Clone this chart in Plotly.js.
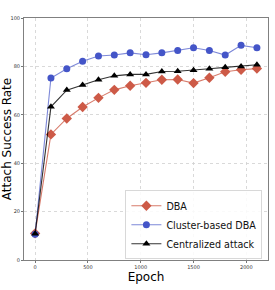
<!DOCTYPE html>
<html>
<head>
<meta charset="utf-8">
<script src="https://cdn.plot.ly/plotly-3.0.1.min.js"></script>
<style>html,body{margin:0;padding:0;background:#fff;}#chart{width:275px;height:290px;}</style>
</head>
<body>
<div id="chart"></div>
<script>
var epochs = [0, 150, 300, 450, 600, 750, 900, 1050, 1200, 1350, 1500, 1650, 1800, 1950, 2100];
var dba = [11.0, 51.9, 58.5, 63.2, 67.0, 70.3, 72.0, 73.2, 74.5, 74.6, 73.1, 75.3, 77.8, 78.6, 79.1];
var clusterDba = [10.6, 75.2, 79.0, 82.1, 84.3, 84.7, 85.6, 84.8, 85.6, 86.6, 87.7, 86.6, 84.7, 88.7, 87.7];
var centralized = [10.8, 63.3, 70.2, 72.3, 74.5, 76.1, 76.7, 76.7, 77.9, 78.0, 78.4, 79.0, 79.6, 80.0, 80.7];
var seriesNames = ["DBA", "Cluster-based DBA", "Centralized attack"];
var yTicks = [0, 20, 40, 60, 80, 100];
var xTicks = [0, 500, 1000, 1500, 2000];

var font = "DejaVu Sans, sans-serif";
var traces = [
  {x: epochs, y: dba, name: seriesNames[0], mode: "lines+markers",
   line: {color: "rgba(205,90,70,0.8)", width: 1.1},
   marker: {symbol: "diamond", size: 8, color: "#cd5a47"}},
  {x: epochs, y: clusterDba, name: seriesNames[1], mode: "lines+markers",
   line: {color: "rgba(70,85,200,0.7)", width: 1.1},
   marker: {symbol: "circle", size: 7, color: "#4455c8"}},
  {x: epochs, y: centralized, name: seriesNames[2], mode: "lines+markers",
   line: {color: "rgba(0,0,0,0.8)", width: 1.1},
   marker: {symbol: "triangle-up", size: 7, color: "#000000"}}
];

var axisCommon = {
  showline: true, mirror: true, linecolor: "#808080", linewidth: 1,
  ticks: "outside", ticklen: 2, tickwidth: 0.8, tickcolor: "#555",
  showgrid: true, gridcolor: "#d0d0d0", griddash: "dot", gridwidth: 0.8,
  zeroline: false, tickfont: {family: font, size: 5, color: "#333"}
};

var layout = {
  width: 275, height: 290,
  margin: {l: 24, r: 7, t: 18, b: 30},
  paper_bgcolor: "#fff", plot_bgcolor: "#fff",
  font: {family: font, color: "#000"},
  showlegend: true,
  legend: {
    x: 0.977, y: 0.003, xanchor: "right", yanchor: "bottom",
    bgcolor: "rgba(255,255,255,0.85)", bordercolor: "#d8d8d8", borderwidth: 1,
    font: {family: font, size: 9.6, color: "#111"},
    tracegroupgap: 0, itemwidth: 30
  },
  xaxis: Object.assign({}, axisCommon, {
    range: [-105, 2205], tickvals: xTicks, ticktext: xTicks.map(String),
    title: {text: "Epoch", font: {family: font, size: 12, color: "#000"}, standoff: 2}
  }),
  yaxis: Object.assign({}, axisCommon, {
    range: [0, 100], tickvals: yTicks, ticktext: yTicks.map(String),
    title: {text: "Attach Success Rate", font: {family: font, size: 12, color: "#000"}, standoff: 4}
  })
};

Plotly.newPlot("chart", traces, layout, {displayModeBar: false, staticPlot: true});
</script>
</body>
</html>
